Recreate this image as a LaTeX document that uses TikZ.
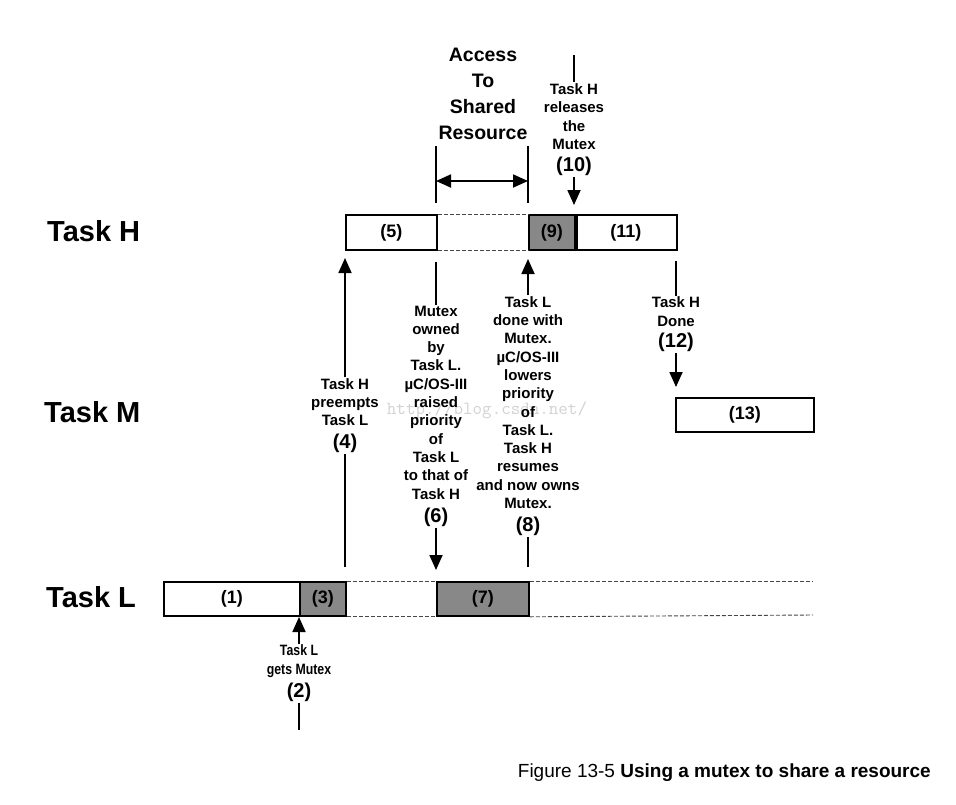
\documentclass[tikz,border=0pt]{standalone}
\usepackage{fontspec}
\setmainfont{Liberation Sans}
\usetikzlibrary{arrows.meta}
\definecolor{boxgray}{RGB}{136,136,136}
\definecolor{dashgray}{RGB}{70,70,70}
\begin{document}
\begin{tikzpicture}[x=1pt,y=-1pt,
 tbox/.style={draw,line width=1.8pt,anchor=north west,inner sep=0pt,font=\fontsize{18}{20}\selectfont\bfseries},
 gbox/.style={tbox,fill=boxgray},
 note/.style={align=center,inner sep=1pt,font=\fontsize{15}{18.3}\selectfont\bfseries},
 bignote/.style={align=center,inner sep=1pt,font=\fontsize{19.5}{26}\selectfont\bfseries},
 num/.style={inner sep=1pt,font=\fontsize{20}{22}\selectfont\bfseries},
 tasklbl/.style={anchor=west,inner sep=0pt,font=\fontsize{29}{32}\selectfont\bfseries},
 ln/.style={line width=1.8pt},
 arr/.style={line width=1.8pt,-{Triangle[width=13pt,length=15pt]}},
 darr/.style={line width=1.8pt,{Triangle[width=13pt,length=15pt]}-{Triangle[width=13pt,length=15pt]}},
 dsh/.style={dashgray,line width=0.9pt,dash pattern=on 4pt off 2pt}]
\fill[white] (0,0) rectangle (956,804);
\useasboundingbox (0,0) rectangle (956,804);

% watermark
\node[text=gray!35,inner sep=0pt,font=\fontsize{18.5}{20}\selectfont\ttfamily] (wm) at (487,410) {http://blog.csdn.net/};

% task labels
\node[tasklbl] (lH) at (47,231) {Task H};
\node[tasklbl] (lM) at (44,412) {Task M};
\node[tasklbl] (lL) at (46,597) {Task L};

% Task H row
\node[tbox,minimum width=91pt,minimum height=35pt] (b5) at (345,214) {(5)};
\node[gbox,minimum width=46pt,minimum height=35pt] (b9) at (528,214) {(9)};
\node[tbox,minimum width=102pt,minimum height=35pt] (b11) at (574,214) {(11)};
\draw[dsh] (b5.north east) -- (b9.north west);
\draw[dsh] (b5.south east) -- (b9.south west);
\draw[line width=3.5pt] (b9.north east) -- (b9.south east);

% Task M row
\node[tbox,minimum width=138pt,minimum height=34pt] (b13) at (675,397) {(13)};

% Task L row
\node[tbox,minimum width=136pt,minimum height=34pt] (b1) at (163,581) {(1)};
\node[gbox,minimum width=46pt,minimum height=34pt] (b3) at (299,581) {(3)};
\node[gbox,minimum width=92pt,minimum height=34pt] (b7) at (436,581) {(7)};
\coordinate (endLt) at (813,581);
\coordinate (endLb) at (813,615);
\draw[dsh] (b3.north east) -- (b7.north west);
\draw[dsh] (b3.south east) -- (b7.south west);
\draw[dsh] (b7.north east) -- (endLt);
\draw[dsh] (b7.south east) -- (endLb);

% Access to shared resource
\node[bignote] (acc) at (483,94) {Access\\To\\Shared\\Resource};
\coordinate (accLt) at (436,146);
\coordinate (accLb) at (436,203);
\coordinate (accRt) at (528,146);
\coordinate (accRb) at (528,203);
\coordinate (accL) at (436,181);
\coordinate (accR) at (528,181);
\draw[ln] (accLt) -- (accLb);
\draw[ln] (accRt) -- (accRb);
\draw[darr] (accL) -- (accR);

% (10)
\node[note] (t10) at (574,116.5) {Task H\\releases\\the\\Mutex};
\node[num] (n10) at (574,166) {(10)};
\coordinate (top10) at (574,55);
\coordinate (tip10) at (574,205);
\draw[ln] (top10) -- (t10.north);
\draw[arr] (n10.south) -- (tip10);

% (4)
\node[note] (t4) at (345,402) {Task H\\preempts\\Task L};
\node[num] (n4) at (345,443) {(4)};
\coordinate (bot4) at (345,567);
\coordinate (tip4) at (345,258);
\draw[arr] (t4.north) -- (tip4);
\draw[ln] (bot4) -- (n4.south);

% (6)
\node[note] (t6) at (436,402.5) {Mutex\\owned\\by\\Task L.\\µC/OS-III\\raised\\priority\\of\\Task L\\to that of\\Task H};
\node[num] (n6) at (436,517) {(6)};
\coordinate (top6) at (436,262);
\coordinate (tip6) at (436,570);
\draw[ln] (top6) -- (t6.north);
\draw[arr] (n6.south) -- (tip6);

% (8)
\node[note] (t8) at (528,402.5) {Task L\\done with\\Mutex.\\µC/OS-III\\lowers\\priority\\of\\Task L.\\Task H\\resumes\\and now owns\\Mutex.};
\node[num] (n8) at (528,526) {(8)};
\coordinate (bot8) at (528,567);
\coordinate (tip8) at (528,259);
\draw[arr] (t8.north) -- (tip8);
\draw[ln] (bot8) -- (n8.south);

% (12)
\node[note] (t12) at (676,311.5) {Task H\\Done};
\node[num] (n12) at (676,342) {(12)};
\coordinate (top12) at (676,261);
\coordinate (tip12) at (676,387);
\draw[ln] (top12) -- (t12.north);
\draw[arr] (n12.south) -- (tip12);

% (2)
\node[note] (t2) at (299,661) {\scalebox{0.82}[1]{Task L}\\\scalebox{0.82}[1]{gets Mutex}};
\node[num] (n2) at (299,692) {(2)};
\coordinate (bot2) at (299,730);
\coordinate (tip2) at (299,617);
\draw[arr] (t2.north) -- (tip2);
\draw[ln] (bot2) -- (n2.south);

% caption
\node[anchor=base east,inner sep=0pt,font=\fontsize{19}{21}\selectfont] (cap) at (931,777) {Figure 13-5 \textbf{Using a mutex to share a resource}};
\end{tikzpicture}
\end{document}
